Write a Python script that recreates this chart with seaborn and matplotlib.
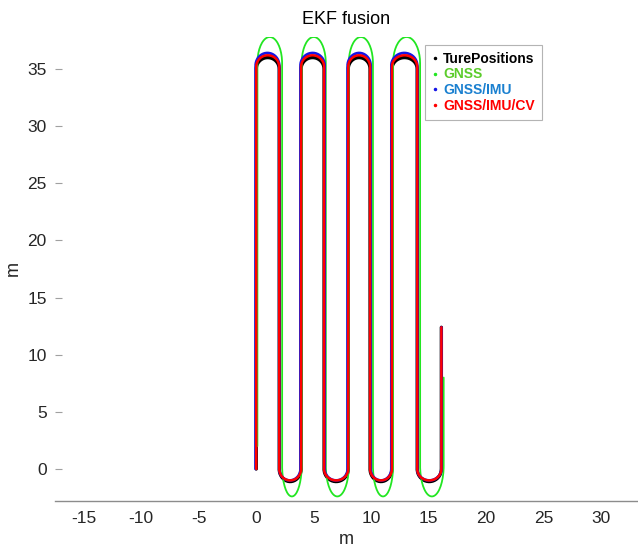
import numpy as np
import pandas as pd
import matplotlib
matplotlib.use("Agg")
import matplotlib.pyplot as plt
import seaborn as sns
from matplotlib.lines import Line2D

# ---- data (metres) ----
series_names = ["TurePositions", "GNSS", "GNSS/IMU", "GNSS/IMU/CV"]

true_lanes = [0.0, 2.0, 3.9, 5.9, 8.0, 9.9, 11.8, 14.0, 16.1]
gnss_lanes = [0.1, 2.25, 3.95, 6.05, 8.05, 10.15, 11.9, 14.25, 16.3]
imu_lanes = [-0.05, 2.0, 3.85, 5.95, 7.95, 9.95, 11.75, 14.0, 16.1]
cv_lanes = [0.0, 2.0, 3.9, 5.9, 8.0, 9.9, 11.8, 14.0, 16.1]

# straight-segment limits and turn apex heights
true_ylow, true_yhigh, true_top, true_bot = 0.0, 35.0, 36.0, -1.1
gnss_ylow, gnss_yhigh, gnss_top, gnss_bot = 0.3, 35.5, 37.8, -2.4
imu_ylow, imu_yhigh, imu_top, imu_bot = 0.0, 35.3, 36.4, -1.0
cv_ylow, cv_yhigh, cv_top, cv_bot = 0.0, 35.2, 36.2, -1.0

start_y = [0.0, 2.0, 0.0, 0.0]
end_y = [12.4, 8.0, 12.4, 12.4]

line_colors = ["#000000", "#22e622", "#1515e6", "#ff0000"]
text_colors = ["#000000", "#5ccc2c", "#1a80d0", "#ff0000"]
line_widths = [2.4, 1.3, 2.0, 1.8]


def build_path(lanes, ylow, yhigh, top, bot, y0, y1, n_arc=40):
    xs, ys = [], []
    for i, x in enumerate(lanes):
        going_up = (i % 2 == 0)
        if i == 0:
            a = y0
        else:
            a = ylow if going_up else yhigh
        if i == len(lanes) - 1:
            b = y1
        else:
            b = yhigh if going_up else ylow
        xs += [x, x]
        ys += [a, b]
        if i < len(lanes) - 1:
            xn = lanes[i + 1]
            cx, rx = (x + xn) / 2, (xn - x) / 2
            t = np.linspace(np.pi, 0, n_arc)
            if going_up:
                ry = top - yhigh
                xs += list(cx + rx * np.cos(t))
                ys += list(yhigh + ry * np.sin(t))
            else:
                ry = ylow - bot
                xs += list(cx + rx * np.cos(t))
                ys += list(ylow - ry * np.sin(t))
    return np.array(xs), np.array(ys)


params = [
    (true_lanes, true_ylow, true_yhigh, true_top, true_bot),
    (gnss_lanes, gnss_ylow, gnss_yhigh, gnss_top, gnss_bot),
    (imu_lanes, imu_ylow, imu_yhigh, imu_top, imu_bot),
    (cv_lanes, cv_ylow, cv_yhigh, cv_top, cv_bot),
]

frames = []
for k, (name, p) in enumerate(zip(series_names, params)):
    x, y = build_path(*p, start_y[k], end_y[k])
    frames.append(pd.DataFrame({"x": x, "y": y, "order": np.arange(len(x)), "series": name}))
df = pd.concat(frames, ignore_index=True)

# ---- figure ----
sns.set_style("white")
plt.rcParams["font.family"] = ["Liberation Sans", "DejaVu Sans"]
plt.rcParams["axes.unicode_minus"] = False

fig = plt.figure(figsize=(6.38, 5.52), dpi=100)
ax = fig.add_axes([55 / 638, 1 - 501 / 552, 583 / 638, 464 / 552])

for k, name in enumerate(series_names):
    sub = df[df["series"] == name]
    sns.lineplot(data=sub, x="x", y="y", sort=False, estimator=None, ax=ax,
                 color=line_colors[k], linewidth=line_widths[k], legend=False)

ax.set_xlim(-17.5, 33.2)
ax.set_ylim(-2.8, 37.8)
ax.set_xticks(range(-15, 31, 5))
ax.set_yticks(range(0, 36, 5))

for s in ["top", "right", "left"]:
    ax.spines[s].set_visible(False)
ax.spines["bottom"].set_color("#8c8c8c")
ax.spines["bottom"].set_linewidth(1.0)
ax.tick_params(axis="both", direction="in", length=5, width=0.8, color="#a0a0a0",
               labelsize=12.5, labelcolor="#262626", pad=7)
ax.tick_params(axis="y", pad=6, left=True)

ax.set_xlabel("m", fontsize=13, color="#262626", labelpad=4)
ax.set_ylabel("m", fontsize=13, color="#262626", labelpad=4)
ax.set_title("EKF fusion", fontsize=13, color="#000000", pad=9)

handles = [Line2D([], [], linestyle="none", marker=".", markersize=3, color=c) for c in line_colors]
leg = ax.legend(handles, series_names, loc="upper left", bbox_to_anchor=(0.635, 0.983),
                frameon=True, fancybox=False, edgecolor="#b4b4b4", framealpha=1,
                prop={"weight": "bold", "size": 10}, handlelength=0.4, handletextpad=0.4,
                labelspacing=0.12, borderpad=0.5, borderaxespad=0)
leg.get_frame().set_linewidth(0.8)
for t, c in zip(leg.get_texts(), text_colors):
    t.set_color(c)

fig.savefig("out.png", dpi=100)
